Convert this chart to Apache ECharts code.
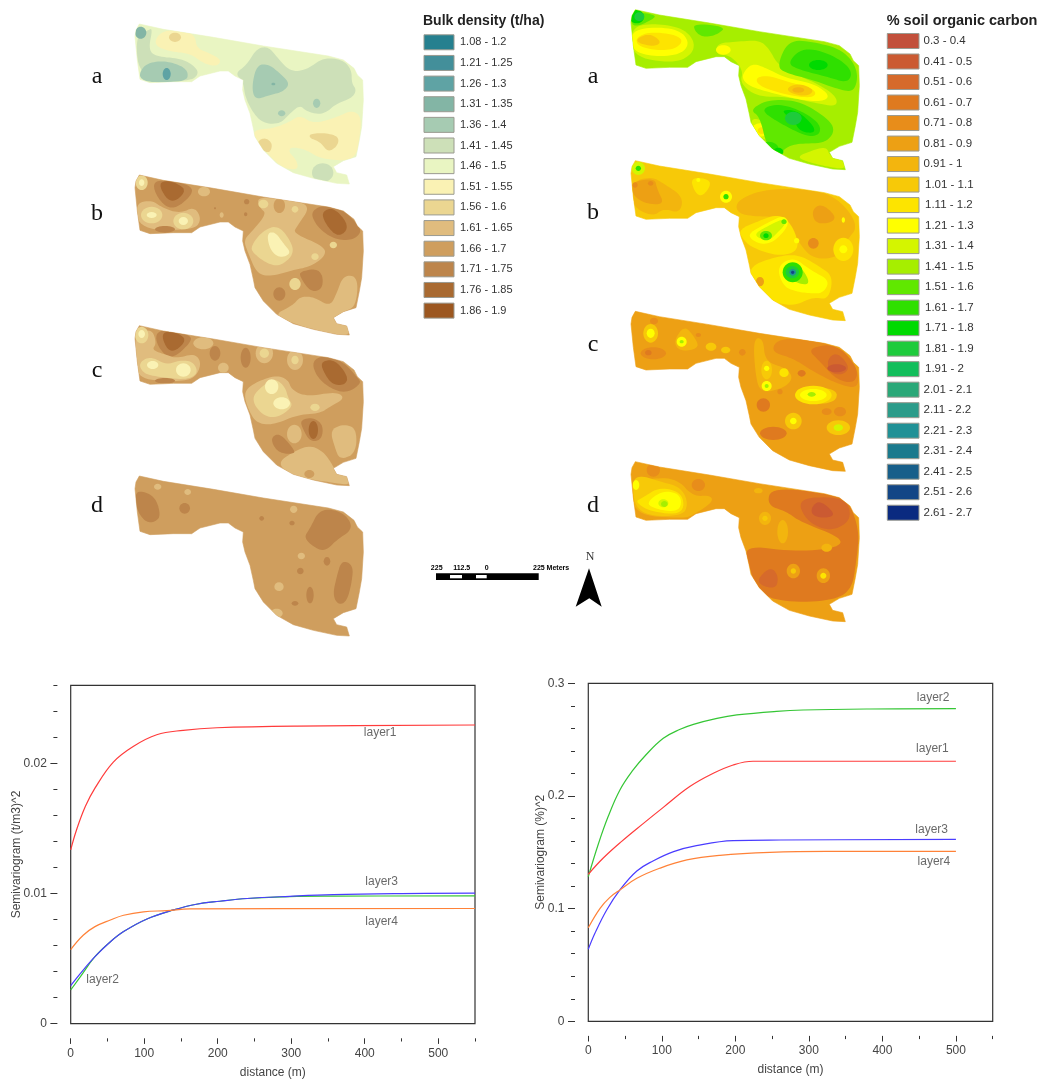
<!DOCTYPE html>
<html><head><meta charset="utf-8">
<style>html,body{margin:0;padding:0;background:#fff}#c{width:1042px;height:1082px;filter:blur(0.45px)}</style>
<script src="https://cdn.jsdelivr.net/npm/echarts@6/dist/echarts.min.js"></script>
</head><body><div id="c"></div>
<script>
// ---------- legends ----------
const bulkLabels=['1.08 - 1.2','1.21 - 1.25','1.26 - 1.3','1.31 - 1.35','1.36 - 1.4','1.41 - 1.45','1.46 - 1.5','1.51 - 1.55','1.56 - 1.6','1.61 - 1.65','1.66 - 1.7','1.71 - 1.75','1.76 - 1.85','1.86 - 1.9'];
const bulkColors=['#26808f','#438f9a','#5fa3a4','#83b5a5','#a6cbb2','#cde0b8','#e9f5c2','#faf2b4','#ebd691','#e0bc7e','#cf9e5e','#bd854b','#a96a31','#9c5720'];
const socLabels=['0.3 - 0.4','0.41 - 0.5','0.51 - 0.6','0.61 - 0.7','0.71 - 0.8','0.81 - 0.9','0.91 - 1','1.01 - 1.1','1.11 - 1.2','1.21 - 1.3','1.31 - 1.4','1.41 - 1.5','1.51 - 1.6','1.61 - 1.7','1.71 - 1.8','1.81 - 1.9','1.91 - 2','2.01 - 2.1','2.11 - 2.2','2.21 - 2.3','2.31 - 2.4','2.41 - 2.5','2.51 - 2.6','2.61 - 2.7'];
const socColors=['#c2503b','#cb5a32','#d66a2b','#df7a1f','#e88d1a','#eda014','#f3b50e','#f7c908','#fde400','#ffff00','#d4f500','#a6ee00','#60e800','#2fe000','#00da00','#1ecb3c','#12be5b','#2aa878','#2b9c8a','#209196','#1a7a8d','#175f8a','#124686','#0a2a80'];

// ---------- semivariograms: [distance, semivariance] ----------
const xMajor=[0,100,200,300,400,500], xMinor=[50,150,250,350,450,550];
const bdYMajor=[0,0.01,0.02], bdYMinor=[0.002,0.004,0.006,0.008,0.012,0.014,0.016,0.018,0.022,0.024,0.026];
const socYMajor=[0,0.1,0.2,0.3], socYMinor=[0.02,0.04,0.06,0.08,0.12,0.14,0.16,0.18,0.22,0.24,0.26,0.28];
const bdLayer1=[[0,.01336],[8,.0149],[20,.0167],[33,.0181],[58,.0201],[85,.0213],[117,.0222],[153,.02254],[199,.02274],[308,.02287],[550,.02295]];
const bdLayer2=[[0,.00259],[13,.0036],[33,.00515],[54,.0063],[72,.00708],[103,.00803],[140,.00874],[171,.00918],[203,.00941],[240,.00962],[298,.00977],[357,.0098],[550,.00982]];
const bdLayer3=[[0,.00292],[13,.00385],[33,.00515],[54,.0063],[72,.00708],[103,.00803],[140,.00874],[171,.00918],[203,.00941],[240,.00962],[298,.00979],[357,.00992],[450,.0100],[550,.01003]];
const bdLayer4=[[0,.0057],[17,.0068],[33,.00746],[54,.00797],[72,.00833],[99,.00859],[131,.00869],[162,.00882],[550,.00885]];
const socLayer1=[[0,.1305],[20,.1447],[45,.1595],[75,.1757],[102,.1899],[138,.2083],[170,.2201],[197,.2275],[224,.2308],[500,.2308]];
const socLayer2=[[0,.1284],[14,.158],[27,.1817],[43,.2053],[61,.2231],[77,.2355],[102,.2512],[125,.2592],[143,.2636],[175,.2689],[202,.2719],[256,.2751],[292,.2763],[383,.2772],[500,.2775]];
const socLayer3=[[0,.0639],[9,.0781],[25,.0988],[43,.1166],[66,.1334],[88,.1423],[116,.1506],[147,.1559],[197,.1604],[261,.1609],[500,.1615]];
const socLayer4=[[0,.0831],[16,.1003],[29,.1098],[43,.1166],[66,.1269],[97,.1358],[134,.1432],[179,.1473],[247,.15],[324,.1509],[500,.1509]];
const bdLineLabels=[['layer1',421,.02238],['layer3',423,.0109],['layer4',423,.0078],['layer2',43.5,.00336]];
const socLineLabels=[['layer2',469,.2876],['layer1',468,.242],['layer3',467,.1704],['layer4',470,.142]];

// ---------- field outline, in survey units ----------
const fieldOutline=[178,72,250,88,400,112,550,138,745,168,790,180,822,205,832,225,848,240,850,300,845,380,838,420,828,470,790,482,760,500,770,518,800,525,808,552,770,550,700,535,640,518,590,490,550,450,525,410,520,385,510,340,495,300,488,270,490,240,465,228,445,213,420,213,360,228,335,245,280,245,210,248,180,238,172,180,165,110,168,90];

// ---------- mapped classes: [class, polygon x,y...] or [class, cx, cy, rx, ry] ----------
const bulkA=[
[7,220,135,240,95,300,88,345,105,350,145,390,160,425,180,410,200,370,190,330,160,270,155],
[7,520,390,580,385,630,365,660,345,700,372,770,352,815,330,845,350,838,420,828,470,790,482,770,480,720,475,680,450,635,440,625,455,650,480,655,510,610,505,570,470,525,415],
[8,285,112,18,14],[8,530,425,555,412,578,430,570,460,545,450],[8,688,402,730,398,775,408,775,435,745,458,720,425,690,415],
[5,165,110,205,90,218,85,205,150,230,170,300,175,340,195,358,220,330,245,180,238],
[5,465,220,500,195,530,145,565,140,590,170,630,215,680,210,730,172,790,180,815,210,815,250,830,270,815,295,770,310,730,345,680,335,660,315,630,340,600,372,550,370,520,340,495,290,490,245],
[5,728,518,32,28],
[4,180,215,200,190,250,182,300,195,325,215,320,245,210,248,180,235],[4,530,195,565,192,600,220,630,250,610,275,570,285,525,300,515,260],
[3,182,98,17,18],[2,260,222,12,18],[3,580,252,6,4],[4,710,310,11,14],[4,605,340,11,9]];
const bulkB=[
[9,165,610,215,600,250,625,300,640,345,620,365,660,340,690,180,690],
[9,530,590,620,600,695,615,650,680,640,700,735,740,735,770,690,800,640,810,570,830,530,820,505,760,490,720,520,690,560,640,540,625],
[9,580,945,640,915,660,890,700,890,750,920,770,880,790,825,835,830,828,920,790,935,760,955,770,970,808,975,808,1005,770,1003,700,988,640,970],
[8,512,740,545,695,590,675,625,710,645,760,600,800,560,790,520,760],[7,560,700,585,695,610,730,635,760,600,775,570,750],
[8,310,663,30,25],[8,215,645,32,25],[7,310,663,14,12],[7,215,645,15,9],[8,185,548,18,22],[7,185,548,8,10],[9,372,575,18,14],[8,550,612,15,13],[8,645,628,10,10],[8,705,770,11,10],[8,760,735,11,10],[8,645,852,17,18],[9,425,645,6,8],
[11,220,545,260,540,330,555,340,580,290,625,255,620,225,580],[12,232,550,270,540,325,570,272,615],
[11,700,630,730,615,790,630,830,670,845,695,820,720,770,720,720,690,695,650],[12,725,635,760,622,800,665,800,695,770,710,735,670],
[11,660,815,710,805,730,830,725,870,690,875,660,830],[11,598,882,18,20],[11,255,688,30,10],[10,598,617,17,22],[11,500,605,8,8],[11,497,643,5,6],[11,405,625,3,3],[12,762,690,3,2]];
const bulkC=[
[11,695,125,730,105,790,125,830,170,845,190,800,220,750,205,710,170],[12,720,125,765,118,805,170,795,195,760,195,735,165],
[11,225,40,260,28,330,45,335,65,275,120,235,85],[12,240,40,280,32,325,60,270,105],
[9,165,45,215,25,230,70,215,90,260,105,290,115,345,100,365,130,345,175,290,185,180,178,168,130],
[8,175,130,210,108,260,135,300,120,340,125,355,160,320,180,230,170,190,160],[7,218,135,17,12],[7,310,150,22,20],[8,185,45,20,25],[7,185,42,10,12],
[9,430,143,16,15],[9,370,70,30,18],[11,405,100,16,22],[11,497,113,15,30],[9,553,100,26,30],[8,553,100,14,14],[9,645,120,24,30],[8,645,120,11,13],
[9,490,215,530,185,590,165,625,180,635,210,680,230,770,215,795,235,750,260,720,280,650,285,580,315,530,310,505,270],
[8,512,235,550,195,585,175,615,200,625,235,640,260,590,295,545,285],[7,575,200,20,22],[7,605,250,25,18],[8,705,262,14,11],
[9,590,430,640,395,690,375,730,395,755,430,770,460,808,470,808,495,770,490,640,470],[9,750,330,790,312,830,325,828,400,780,420,765,385],
[9,643,342,22,28],[11,660,300,700,292,730,315,725,360,690,365,670,330],[12,700,330,14,27],[11,575,350,600,340,640,385,645,402,600,400,578,375],[11,255,182,30,8],[10,688,462,15,12]];
const bulkD=[
[11,720,565,790,575,822,625,770,660,740,690,715,690,670,655,690,625],[11,785,720,820,735,815,790,800,845,775,855,758,825,770,770],[11,165,515,195,515,228,535,243,590,220,608,195,605,170,570],
[11,314,565,16,16],[11,741,724,10,13],[11,661,753,10,10],[9,233,500,11,9],[9,323,516,10,9],[9,641,568,11,11],[9,664,708,11,10],[9,597,800,14,13],[9,590,880,18,14],[11,545,595,7,7],[11,636,609,8,7],[11,645,850,10,7],[11,690,825,11,25]];
const socA=[
[10,152,80,230,70,310,85,345,125,335,165,280,190,155,170],
[10,410,130,470,125,540,120,570,150,590,190,640,220,720,255,770,290,770,320,710,310,620,290,530,290,480,250,490,210,450,165,410,165],
[10,650,470,700,450,740,440,750,470,790,480,797,508,740,500,680,485],[10,510,355,550,360,585,400,560,425,525,400],
[9,152,95,220,80,300,90,330,130,300,165,215,170,155,150],[8,170,110,215,95,290,105,310,125,280,150,215,150,170,135],[7,170,115,210,100,245,125,225,140,175,130],
[9,495,210,520,190,560,205,620,235,700,250,750,285,730,305,660,300,580,280,510,260,485,235],[8,525,235,560,225,640,250,710,270,700,295,620,285,540,260],[7,620,262,660,250,705,270,680,290,630,280],[6,655,270,18,8],
[9,430,150,22,14],[9,540,390,25,20],[8,545,392,12,10],
[12,152,70,165,35,230,45,215,60,170,80],[12,340,70,440,80,410,105,370,112,345,95],
[12,590,200,625,120,700,125,790,150,835,210,825,275,780,270,700,240,620,220],
[12,510,330,560,300,640,300,700,325,770,380,740,430,660,430,620,440,600,465,560,440,540,350],
[13,620,190,670,140,760,165,818,210,805,250,740,230,660,210],[13,540,330,590,310,660,330,720,370,720,405,680,410,600,370],[13,565,445,30,20],
[14,170,50,22,20],[14,715,195,28,15],[14,640,360,600,330,650,330,700,375,705,400,660,395],[15,640,355,25,20],[15,178,50,15,13],[14,595,455,15,12]];
const socB=[
[8,330,530,400,540,370,590,345,580],
[6,155,545,215,530,250,550,310,590,300,640,250,625,220,650,155,620],[5,155,545,225,535,230,565,255,615,190,610,155,580],[4,165,555,8,8],[4,212,550,8,7],
[6,470,600,560,565,720,570,790,610,835,680,800,720,780,770,700,780,650,720,620,650,530,650,470,640],[5,695,630,725,610,770,650,750,670,705,670],[4,700,730,16,16],[8,790,748,30,35],[9,790,748,12,12],
[8,475,690,530,665,600,640,640,680,660,750,600,770,520,745,490,720],[9,505,700,560,670,610,645,630,670,590,720,550,735,515,720],[10,525,700,560,680,610,655,620,670,585,705,570,720,535,715],[12,558,707,18,14],[14,558,707,8,7],[12,612,665,8,7],
[8,510,800,570,775,650,760,720,800,760,830,745,900,700,890,640,920,560,900,510,850],[9,590,800,640,770,690,810,750,840,730,880,690,880,650,875,610,860],[11,603,815,640,790,675,815,690,855,650,850],[13,638,817,30,30],[15,637,817,20,18],[19,638,817,10,10],[22,638,817,5,5],
[9,438,590,18,18],[13,438,590,8,8],[10,175,505,20,20],[13,175,505,8,8],[9,355,540,6,6],[5,540,845,12,14],[9,650,722,8,8],[9,790,660,5,8]];
const socC=[
[6,520,100,550,100,555,170,620,190,640,220,610,250,540,265,525,200],[7,650,245,770,250,770,290,700,300,650,280],
[4,600,95,760,115,830,180,838,250,780,240,700,200,640,160,570,140],[3,680,130,770,115,835,190,825,235,770,225,720,170],[2,740,165,770,140,810,185,790,210,750,205],[1,770,190,28,12],
[7,212,85,22,28],[9,212,85,12,14],[6,280,110,312,62,340,90,360,130,300,140],[9,305,110,15,15],[11,305,110,6,5],[7,393,125,16,12],[7,437,135,14,10],[4,220,145,38,18],[3,205,143,10,8],[4,222,48,12,10],[4,487,142,10,10],[4,355,90,8,6],
[7,560,195,16,28],[9,560,190,8,8],[9,560,243,15,15],[11,560,243,6,6],[8,612,203,14,13],[8,700,270,55,28],[9,700,270,40,18],[11,695,268,12,7],[7,640,348,25,25],[9,640,348,10,10],[7,775,368,35,22],[10,775,368,14,10],[3,550,300,20,20],[3,580,385,40,20],[4,740,320,15,10],[4,780,320,18,14],[3,665,205,12,10],[4,600,260,8,8]];
const socD=[
[3,575,545,770,570,810,595,838,680,830,760,815,860,740,890,600,890,530,860,510,790,490,720,640,740,770,730,790,700,660,650,620,620,560,600],
[2,650,580,770,575,808,600,810,650,750,680,680,650],[1,695,605,720,585,770,630,730,640,695,630],[2,530,825,570,785,595,810,590,850,550,845],
[6,155,530,210,520,290,520,340,575,390,570,400,590,340,630,310,640,160,630],[7,155,530,180,510,240,530,300,545,325,590,310,635,170,630],[8,185,580,240,545,310,565,310,630,210,620,165,590],[9,195,595,250,555,305,570,300,620,235,615],[10,250,595,15,12],[11,253,597,10,9],[9,168,540,10,15],
[6,555,640,18,20],[7,555,640,8,8],[6,608,680,16,35],[6,740,728,16,12],[5,640,798,20,22],[7,640,798,8,8],[5,730,812,20,22],[8,730,812,9,9],[6,535,557,13,8],[4,220,495,20,20],[4,355,540,20,18]];

// ---------- scale bar and panel letters ----------
const scaleTicks=[['225',436.7],['112.5',461.7],['0',486.7]];
const panelLetters=[['a',97,83],['b',97,220],['c',97,377],['d',97,512],['a',593,83],['b',593,219],['c',593,351],['d',593,512]];

const ink='#444', sans='"Liberation Sans",Arial,sans-serif';
const grids=[
 {left:80,top:0,width:300,height:330},{left:80,top:320,width:300,height:330},
 {left:580,top:0,width:300,height:310},{left:580,top:305,width:300,height:320},
 {left:70.7,top:685.3,width:404.3,height:338.4,show:true,borderColor:'#333',borderWidth:1.2,backgroundColor:'transparent'},
 {left:588.3,top:683.3,width:404.4,height:338,show:true,borderColor:'#333',borderWidth:1.2,backgroundColor:'transparent'}];
const xAxes=[],yAxes=[];
[[900,990],[900,990],[900,930],[900,960]].forEach((r,i)=>{
  xAxes.push({gridIndex:i,type:'value',min:0,max:r[0],show:false});
  yAxes.push({gridIndex:i,type:'value',min:0,max:r[1],inverse:true,show:false});
});
function lineAxes(g,yMax,yMajor,yMinor,yName,nameGap){
  const lab={color:ink,fontSize:12,fontFamily:sans};
  const noLine={show:false,onZero:false};
  xAxes.push({gridIndex:g,type:'value',min:0,max:550,position:'bottom',offset:14.6,splitLine:{show:false},axisLine:noLine,
    axisTick:{show:true,length:5.6,customValues:xMajor,lineStyle:{color:'#333'}},axisLabel:{show:true,customValues:xMajor,margin:9,...lab},
    name:'distance (m)',nameLocation:'middle',nameGap:28,nameTextStyle:lab});
  xAxes.push({gridIndex:g,type:'value',min:0,max:550,position:'bottom',offset:14.6,splitLine:{show:false},axisLine:noLine,
    axisTick:{show:true,length:3.2,customValues:xMinor,lineStyle:{color:'#333'}},axisLabel:{show:false}});
  yAxes.push({gridIndex:g,type:'value',min:0,max:yMax,position:'left',offset:13.3,splitLine:{show:false},axisLine:noLine,
    axisTick:{show:true,length:7,customValues:yMajor,lineStyle:{color:'#333'}},axisLabel:{show:true,customValues:yMajor,margin:10.5,...lab},
    name:yName,nameLocation:'middle',nameGap,nameMoveOverlap:false,nameRotate:90,nameTextStyle:lab});
  yAxes.push({gridIndex:g,type:'value',min:0,max:yMax,position:'left',offset:13.3,splitLine:{show:false},axisLine:noLine,
    axisTick:{show:true,length:4,customValues:yMinor,lineStyle:{color:'#333'}},axisLabel:{show:false}});
}
lineAxes(4,0.026,bdYMajor,bdYMinor,'Semivariogram (t/m3)^2',35);   // axis indices 4,5
lineAxes(5,0.3,socYMajor,socYMinor,'Semivariogram (%)^2',28.5);    // axis indices 6,7

// rounds the corners of a read contour so it looks like a contour band
function rounded(pts){
  let cur=pts;
  for(let it=0;it<3;it++){
    const out=[];
    for(let i=0;i<cur.length;i++){
      const a=cur[i],b=cur[(i+1)%cur.length];
      out.push([a[0]*.75+b[0]*.25,a[1]*.75+b[1]*.25],[a[0]*.25+b[0]*.75,a[1]*.25+b[1]*.75]);
    }
    cur=out;
  }
  return cur;
}
function mapSeries(axis,shift,colors,base,patches){
  const list=[[base]].concat(patches);
  return {type:'custom',coordinateSystem:'cartesian2d',xAxisIndex:axis,yAxisIndex:axis,silent:true,z:2,
    data:list.map((_,i)=>[i]),
    encode:{x:0,y:0},
    renderItem(params,api){
      const idx=api.value(0), p=list[idx], fill=colors[p[0]];
      const outline=[];
      for(let i=0;i<fieldOutline.length;i+=2)outline.push(api.coord([fieldOutline[i]+shift[0],fieldOutline[i+1]+shift[1]]));
      const clip={type:'polygon',shape:{points:outline}};
      if(idx===0)return {type:'polygon',shape:{points:outline},style:{fill,stroke:fill,lineWidth:0.6}};
      if(p.length===5){
        const c=api.coord([p[1],p[2]]), s=api.size([p[3],p[4]]);
        return {type:'ellipse',shape:{cx:c[0],cy:c[1],rx:s[0],ry:s[1]},style:{fill},clipPath:clip};
      }
      const pts=[];
      for(let i=1;i<p.length;i+=2)pts.push(api.coord([p[i],p[i+1]]));
      return {type:'polygon',shape:{points:rounded(pts)},style:{fill},clipPath:clip};
    }};
}
function curve(axis,name,data,color,z){
  return {type:'line',name,xAxisIndex:axis,yAxisIndex:axis,data,showSymbol:false,smooth:0.4,silent:true,z:z||3,lineStyle:{color,width:1.2}};
}
function curveLabels(axis,items){
  return {type:'scatter',xAxisIndex:axis,yAxisIndex:axis,silent:true,symbolSize:1,itemStyle:{color:'transparent'},z:5,
    data:items.map(d=>({name:d[0],value:[d[1],d[2]]})),
    label:{show:true,position:'inside',formatter:'{b}',color:ink,fontSize:12,fontFamily:sans}};
}
const red='#ff3b3b',green='#35c635',blue='#4a3cff',orange='#ff8238';
const series=[
 mapSeries(0,[0,0],bulkColors,6,bulkA),mapSeries(0,[0,453],bulkColors,10,bulkB),
 mapSeries(1,[0,-55],bulkColors,10,bulkC),mapSeries(1,[0,396],bulkColors,10,bulkD),
 mapSeries(2,[-12,-43],socColors,11,socA),mapSeries(2,[-12,410],socColors,7,socB),
 mapSeries(3,[-12,-53],socColors,5,socC),mapSeries(3,[-12,398],socColors,5,socD),
 curve(4,'layer1',bdLayer1,red),curve(4,'layer2',bdLayer2,green),curve(4,'layer3',bdLayer3,blue),curve(4,'layer4',bdLayer4,orange),curveLabels(4,bdLineLabels),
 curve(6,'layer2',socLayer2,green),curve(6,'layer1',socLayer1,red),curve(6,'layer3',socLayer3,blue),curve(6,'layer4',socLayer4,orange),curveLabels(6,socLineLabels)
];

// ---------- legends, letters, scale bar, north arrow ----------
const graphic=[];
function txt(text,x,y,font,fill,align,va){
  graphic.push({type:'text',silent:true,style:{text,x,y,font,fill:fill||'#333',textAlign:align||'left',textVerticalAlign:va||'middle'}});
}
function rect(x,y,w,h,fill,stroke){
  graphic.push({type:'rect',silent:true,shape:{x,y,width:w,height:h},style:{fill,stroke:stroke||null,lineWidth:stroke?1:0}});
}
txt('Bulk density (t/ha)',423,21.3,'bold 14px '+sans,'#222');
bulkLabels.forEach((l,i)=>{const y=42.3+i*20.64;rect(424,y-7.5,30,15,bulkColors[i],'#9a9a90');txt(l,460,y,'11px '+sans);});
txt('% soil organic carbon',886.7,20.7,'bold 14.5px '+sans,'#222');
socLabels.forEach((l,i)=>{const y=41+i*20.51;rect(887.3,y-7.5,31.7,15,socColors[i],'#9a9a90');txt(l,i>=7&&i<17?925:923.5,y,'11.5px '+sans);});
panelLetters.forEach(p=>txt(p[0],p[1],p[2]-6,'24px "Liberation Serif","Times New Roman",serif','#111','center'));
rect(436,573.3,102.7,6.7,'#000');rect(450,575,12,3.3,'#fff');rect(476,575,10.7,3.3,'#fff');
scaleTicks.forEach(t=>txt(t[0],t[1],567.7,'bold 7px '+sans,'#000','center'));
txt('225 Meters',533,567.7,'bold 7px '+sans,'#000');
txt('N',590,556.7,'12px "Liberation Serif",serif','#333','center');
graphic.push({type:'polygon',silent:true,shape:{points:[[589,568.3],[601.7,606.7],[589.3,598.3],[575.7,606.7]]},style:{fill:'#000'}});

const chart=echarts.init(document.getElementById('c'));
chart.setOption({animation:false,backgroundColor:'#fff',grid:grids,xAxis:xAxes,yAxis:yAxes,series,graphic,tooltip:{show:false}});
</script></body></html>
